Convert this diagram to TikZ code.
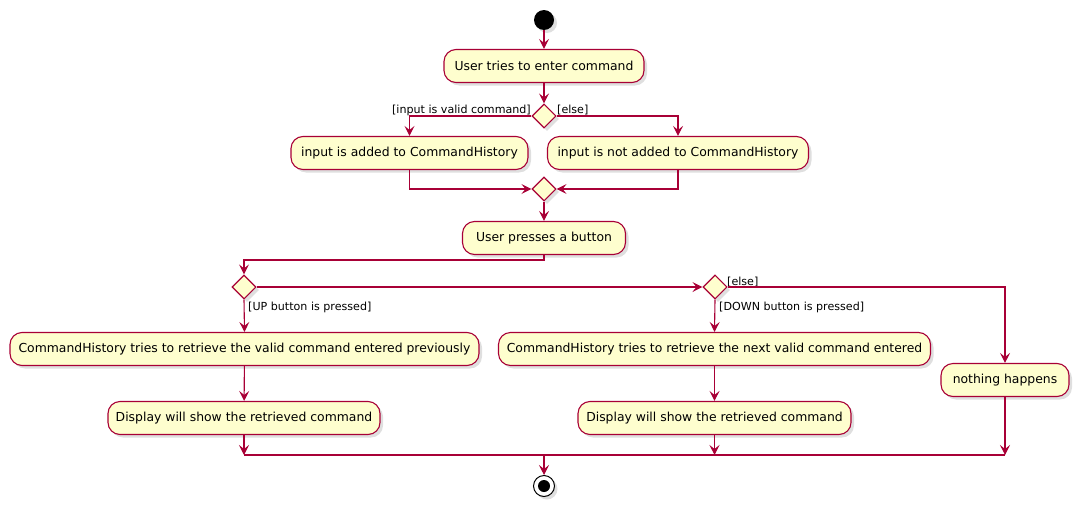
\documentclass[tikz,border=0pt]{standalone}
\usepackage{fontspec}
\setmainfont{DejaVu Sans}
\usetikzlibrary{arrows.meta,shadows,shapes.geometric}
\definecolor{pborder}{HTML}{A80036}
\definecolor{pfill}{HTML}{FEFECE}
\begin{document}
\begin{tikzpicture}[x=1pt,y=-1pt,
  shad/.style={drop shadow={shadow xshift=3pt,shadow yshift=-3pt,opacity=0.25}},
  act/.style={draw=pborder, fill=pfill, line width=1.1pt, rounded corners=12pt,
    minimum height=33pt, inner xsep=0pt, font=\fontsize{12.4}{14}\selectfont, shad},
  dia/.style={draw=pborder, fill=pfill, line width=1.1pt, diamond, minimum width=24pt,
    minimum height=24pt, inner sep=0pt, shad},
  flow/.style={draw=pborder, line width=1.1pt, line join=miter, -{Stealth[length=10pt,width=10pt,inset=4pt]}},
  plain/.style={draw=pborder, line width=1.1pt},
  lbl/.style={font=\fontsize{11.1}{13}\selectfont, inner sep=0pt},
]
\useasboundingbox (0,0) rectangle (1078,506);

\node[circle, fill=black, minimum size=20pt, inner sep=0pt, shad] (start) at (544,20) {};
\node[act, minimum width=200pt] (a) at (544,66) {User tries to enter command};
\node[dia] (d1) at (544,116) {};
\node[act, minimum width=237pt] (l1) at (409.5,153) {input is added to CommandHistory};
\node[act, minimum width=261pt] (r1) at (678,153) {input is not added to CommandHistory};
\node[dia] (d2) at (544,189) {};
\node[act, minimum width=163pt] (b) at (544,238) {User presses a button};
\node[dia] (d3) at (244,287) {};
\node[dia] (d4) at (715,287) {};
\node[act, minimum width=469pt] (up1) at (244.5,349) {CommandHistory tries to retrieve the valid command entered previously};
\node[act, minimum width=272pt] (up2) at (244,418) {Display will show the retrieved command};
\node[act, minimum width=432pt] (dn1) at (714.5,349) {CommandHistory tries to retrieve the next valid command entered};
\node[act, minimum width=273pt] (dn2) at (714.5,418) {Display will show the retrieved command};
\node[act, minimum width=128pt] (nh) at (1005,380) {nothing happens};
\node[circle, draw=black, fill=white, line width=1pt, minimum size=21pt, inner sep=0pt, shad] (stop) at (544,486) {};
\node[circle, fill=black, minimum size=12pt, inner sep=0pt] (stopdot) at (stop) {};

\node[lbl, anchor=base east] (lab1) at (531,113) {[input is valid command]};
\node[lbl, anchor=base west] (lab2) at (557,113) {[else]};
\node[lbl, anchor=base west] (lab3) at (248,310) {[UP button is pressed]};
\node[lbl, anchor=base west] (lab4) at (719,310) {[DOWN button is pressed]};
\node[lbl, anchor=base west] (lab5) at (727,285) {[else]};

\coordinate (j1) at (544,260);
\coordinate (m1) at (244,455);
\coordinate (m0) at (544,455);
\coordinate (m2) at (714.5,455);
\coordinate (m3) at (1005,455);

\draw[flow] (start) -- (a);
\draw[flow] (a) -- (d1);
\draw[flow] (d1.west) -| (l1.north);
\draw[flow] (d1.east) -| (r1.north);
\draw[flow] (l1.south) |- (d2.west);
\draw[flow] (r1.south) |- (d2.east);
\draw[flow] (d2) -- (b);
\draw[flow] (b.south) -- (j1) -| (d3.north);
\draw[flow] (d3.east) -- (d4.west);
\draw[flow] (d3.south) -- (up1.north);
\draw[flow] (up1) -- (up2);
\draw[flow] (d4.south) -- (dn1.north);
\draw[flow] (dn1) -- (dn2);
\draw[flow] (d4.east) -| (nh.north);
\draw[flow] (up2.south) -- (m1);
\draw[flow] (dn2.south) -- (m2);
\draw[flow] (nh.south) -- (m3);
\draw[plain] (m1) -- (m3);
\draw[flow] (m0) -- (stop);
\end{tikzpicture}
\end{document}
